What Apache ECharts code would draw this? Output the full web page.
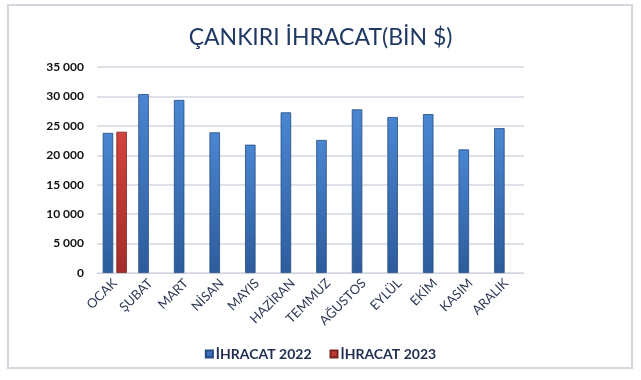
<!DOCTYPE html>
<html><head><meta charset="utf-8">
<script src="https://cdn.jsdelivr.net/npm/echarts@6/dist/echarts.min.js"></script>
<style>html,body{margin:0;padding:0;background:#fff}#c{width:641px;height:380px}</style>
</head><body><div id="c"></div>
<script>
const categories = ['OCAK','ŞUBAT','MART','NİSAN','MAYIS','HAZİRAN','TEMMUZ','AĞUSTOS','EYLÜL','EKİM','KASIM','ARALIK'];
const ihracat2022 = [23800,30400,29400,23900,21800,27300,22600,27800,26500,27000,21000,24600];
const ihracat2023 = [24000,null,null,null,null,null,null,null,null,null,null,null];
const seriesNames = ['İHRACAT 2022','İHRACAT 2023'];
const titleText = 'ÇANKIRI İHRACAT(BİN $)';

const FONT = 'Lato,"Open Sans",sans-serif';
const chart = echarts.init(document.getElementById('c'), null, {renderer:'canvas'});
function grad(top, bottom){
  return new echarts.graphic.LinearGradient(0,0,0,1,[{offset:0,color:top},{offset:1,color:bottom}]);
}
chart.setOption({
  animation:false,
  backgroundColor:'#fff',
  graphic:[{type:'rect',shape:{x:8,y:5,width:624,height:363},style:{fill:'none',stroke:'#D3D8E0',lineWidth:2},silent:true}],
  title:{text:titleText,left:'center',top:21,textStyle:{fontFamily:FONT,fontSize:23,fontWeight:'normal',color:'#1F3864'}},
  legend:{bottom:14,left:'center',itemWidth:7,itemHeight:7,itemGap:18,icon:'rect',
    textStyle:{fontFamily:FONT,fontSize:14,fontWeight:'bold',color:'#1F2D4F',padding:[0,0,0,-2]}},
  grid:{left:97,right:117,top:67,bottom:107,containLabel:false},
  xAxis:{type:'category',data:categories,
    axisLine:{lineStyle:{color:'#D0D5DD'}},axisTick:{show:false},
    axisLabel:{rotate:45,fontFamily:FONT,fontSize:13,color:'#2E3A55',margin:8,interval:0}},
  yAxis:{type:'value',min:0,max:35000,interval:5000,
    axisLine:{show:false},axisTick:{show:false},
    splitLine:{lineStyle:{color:'#D3D8E0',width:1.5}},
    axisLabel:{fontFamily:FONT,fontSize:12,fontWeight:'bold',color:'#111',margin:13,
      formatter:v=>v===0?'0':String(v).replace(/\B(?=(\d{3})+(?!\d))/g,' ')}},
  series:[
    {name:seriesNames[0],type:'bar',data:ihracat2022,barWidth:10.5,barGap:'30%',
      itemStyle:{color:grad('#4A86D2','#2D5C9C'),borderColor:'#234B82',borderWidth:0.8}},
    {name:seriesNames[1],type:'bar',data:ihracat2023,barWidth:10.5,
      itemStyle:{color:grad('#D2433D','#A52E2A'),borderColor:'#7E2220',borderWidth:0.8}}
  ]
});
</script></body></html>
